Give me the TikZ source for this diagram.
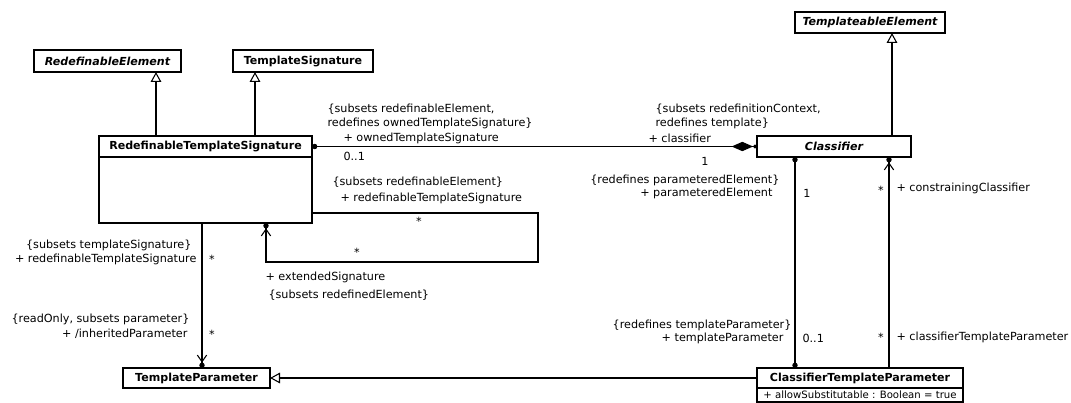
\documentclass[tikz,border=0pt]{standalone}
\usepackage{fontspec}
\setmainfont{DejaVu Sans}
\usetikzlibrary{arrows.meta}

\begin{document}
\begin{tikzpicture}[x=0.75pt,y=-0.75pt,line width=0.8pt,
    class/.style={draw,fill=white,inner sep=0pt,outer sep=0pt,font=\fontsize{8.3}{10}\selectfont\bfseries},
    abstract/.style={class,font=\fontsize{8.3}{10}\selectfont\bfseries\itshape},
    lbl/.style={inner sep=0pt,align=left,font=\fontsize{8.4}{10.5}\selectfont},
    rlbl/.style={lbl,align=right,anchor=east},
    gen/.style={-{Triangle[open,length=7.5pt,width=8pt,fill=white]}},
    nav/.style={-{Straight Barb[length=5pt,width=7pt] Circle[length=4pt]}},
    own/.style={{Circle[length=4pt]}-}]

    \useasboundingbox (0,0) rectangle (1071,403);

    % Classes
    \node[abstract,minimum width=110.25pt,minimum height=16.5pt] (re) at (107.5,61) {RedefinableElement};
    \node[class,minimum width=105pt,minimum height=16.5pt] (ts) at (303,61) {TemplateSignature};
    \node[abstract,minimum width=112.5pt,minimum height=15.75pt] (te) at (870,22.5) {TemplateableElement};
    \node[class,minimum width=159.75pt,minimum height=15.75pt] (rts) at (205.5,146.5) {RedefinableTemplateSignature};
    \node[class,minimum width=159.75pt,minimum height=49.5pt,anchor=north] (rtsbody) at (rts.south) {};
    \node[abstract,minimum width=115.5pt,minimum height=15.75pt] (cls) at (834,146.5) {Classifier};
    \node[class,minimum width=110.25pt,minimum height=15pt] (tp) at (196.5,378) {TemplateParameter};
    \node[class,minimum width=154.5pt,minimum height=15pt] (ctp) at (860,378) {ClassifierTemplateParameter};
    \node[class,minimum width=154.5pt,minimum height=10.5pt,anchor=north,font=\fontsize{7.6}{9}\selectfont] (ctpattr) at (ctp.south) {+ allowSubstitutable : Boolean = true};

    % Generalizations
    \draw[gen] (rts.north -| 156,0) -- (re.south -| 156,0);
    \draw[gen] (rts.north -| 255,0) -- (ts.south -| 255,0);
    \draw[gen] (cls.north -| 892,0) -- (te.south -| 892,0);
    \draw[gen] (ctp.west) -- (tp.east);

    % ownedTemplateSignature / classifier
    \draw[{Circle[length=4pt]}-{Diamond[length=16pt,width=7pt] Circle[length=3pt]}] (rts.east) -- (cls.west);
    \node[lbl,anchor=west] (otsc) at (327,116) {\{subsets redefinableElement,\\redefines ownedTemplateSignature\}};
    \node[lbl,anchor=west] (otsn) at (343,138) {+ ownedTemplateSignature};
    \node[lbl,anchor=west] (otsm) at (343,156) {0..1};
    \node[lbl,anchor=west] (clsc) at (655,116) {\{subsets redefinitionContext,\\redefines template\}};
    \node[lbl,anchor=west] (clsn) at (648,138) {+ classifier};
    \node[lbl] (clsm) at (705,161) {1};

    % extendedSignature (self loop)
    \coordinate (loopne) at (538,213);
    \coordinate (loopsw) at (266,262);
    \draw[nav] (rtsbody.east |- loopne) -- (loopne) |- (loopsw) -- (rtsbody.south -| loopsw);
    \node[lbl,anchor=west] (rtsc) at (332,182) {\{subsets redefinableElement\}};
    \node[lbl,anchor=west] (rtsn) at (340,198) {+ redefinableTemplateSignature};
    \node[lbl] (rtsm) at (419,221) {*};
    \node[lbl] (extm) at (357,252) {*};
    \node[lbl,anchor=west] (extn) at (265,277) {+ extendedSignature};
    \node[lbl,anchor=west] (extc) at (268,295) {\{subsets redefinedElement\}};

    % inheritedParameter
    \draw[nav] (rtsbody.south -| 202,0) -- (tp.north -| 202,0);
    \node[rlbl] (tsc) at (192,245) {\{subsets templateSignature\}};
    \node[rlbl] (tsn) at (197,259) {+ redefinableTemplateSignature};
    \node[lbl] (tsm) at (212,259) {*};
    \node[rlbl] (ipc) at (190,319) {\{readOnly, subsets parameter\}};
    \node[rlbl] (ipn) at (188,334) {+ /inheritedParameter};
    \node[lbl] (ipm) at (212,334) {*};

    % parameteredElement / templateParameter
    \draw[{Circle[length=4pt]}-{Circle[length=4pt]}] (cls.south -| 795,0) -- (ctp.north -| 795,0);
    \node[rlbl] (pec) at (780,180) {\{redefines parameteredElement\}};
    \node[rlbl] (pen) at (773,193) {+ parameteredElement};
    \node[lbl] (pem) at (807,193) {1};
    \node[rlbl] (tpc) at (792,325) {\{redefines templateParameter\}};
    \node[rlbl] (tpn) at (784,338) {+ templateParameter};
    \node[lbl,anchor=west] (tpm) at (802,338) {0..1};

    % constrainingClassifier
    \draw[nav] (ctp.north -| 889,0) -- (cls.south -| 889,0);
    \node[lbl] (ccm) at (881,190) {*};
    \node[lbl,anchor=west] (ccn) at (896,188) {+ constrainingClassifier};
    \node[lbl] (ctpm) at (881,337) {*};
    \node[lbl,anchor=west] (ctpn) at (896,337) {+ classifierTemplateParameter};
\end{tikzpicture}
\end{document}
